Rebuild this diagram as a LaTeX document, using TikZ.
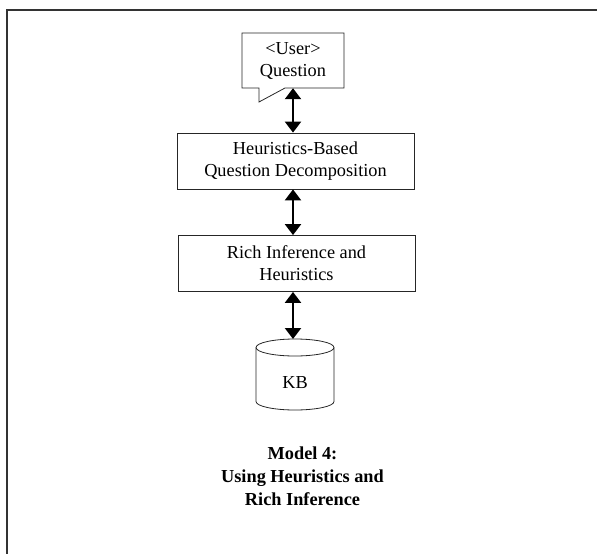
\documentclass[tikz,border=0pt]{standalone}
\usepackage{fontspec}
\setmainfont{Liberation Serif}
\usetikzlibrary{arrows.meta}
\begin{document}
\begin{tikzpicture}[x=1pt,y=-1pt,
  box/.style={draw=black!85,line width=0.8pt,minimum width=237pt,minimum height=56pt,align=center,inner sep=0pt,font=\fontsize{18.3}{22}\selectfont},
  txt/.style={align=center,inner sep=0pt,font=\fontsize{18.3}{22}\selectfont},
  biarrow/.style={line width=2.2pt,{Triangle[width=16pt,length=11pt]}-{Triangle[width=16pt,length=11pt]}},
  outline/.style={draw=black!85,line width=0.8pt}]
\useasboundingbox (0,0) rectangle (597,554);
% frame
\draw[black!80,line width=1.6pt] (597,10) -- (7,10) -- (7,554);
% callout
\draw[outline,line join=miter] (242,33) -- (344,33) -- (344,88) -- (285,88) -- (259,102) -- (259,88) -- (242,88) -- cycle;
\node[txt,minimum width=102pt,minimum height=55pt] (q) at (293,60.5) {<User>\\Question};
% boxes
\node[box] (b2) at (295.5,161) {Heuristics-Based\\Question Decomposition};
\node[box] (b3) at (296.5,263.5) {Rich Inference and\\Heuristics};
% cylinder
\coordinate (kbtop) at (295,339);
\draw[outline] (295,347.5) ellipse [x radius=39pt,y radius=8.5pt];
\draw[outline] (256,347.5) -- (256,401.5) arc[start angle=180,end angle=360,x radius=39pt,y radius=8.5pt] -- (334,347.5);
\node[txt] (kb) at (295,383) {KB};
% arrows
\draw[biarrow] (q.south) -- (q.south |- b2.north);
\draw[biarrow] (q.south |- b2.south) -- (q.south |- b3.north);
\draw[biarrow] (q.south |- b3.south) -- (q.south |- kbtop);
% caption
\node[txt,font=\fontsize{18.3}{23}\selectfont\bfseries] (cap) at (302.5,476) {Model 4:\\Using Heuristics and\\Rich Inference};
\end{tikzpicture}
\end{document}
